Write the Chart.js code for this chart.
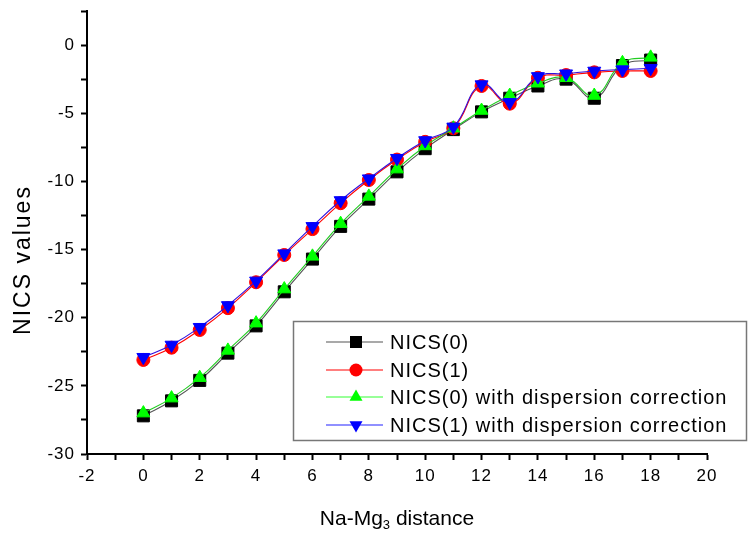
<!DOCTYPE html>
<html>
<head>
<meta charset="utf-8">
<title>NICS values vs Na-Mg3 distance</title>
<script src="https://cdn.jsdelivr.net/npm/chart.js@4.4.0/dist/chart.umd.min.js"></script>
<style>
  html, body { margin: 0; padding: 0; background: #fff; }
  #wrap { width: 754px; height: 533px; }
</style>
</head>
<body>
<div id="wrap"><canvas id="chart" width="754" height="533"></canvas></div>
<script>
// distance steps along the x axis
const distances = [0, 1, 2, 3, 4, 5, 6, 7, 8, 9, 10, 11, 12, 13, 14, 15, 16, 17, 18];

const nics0 = [-27.2, -26.1, -24.6, -22.6, -20.6, -18.1, -15.7, -13.3, -11.3, -9.3,
               -7.6, -6.2, -4.9, -3.9, -3.0, -2.5, -3.9, -1.5, -1.1];
const nics1 = [-23.1, -22.2, -20.9, -19.3, -17.4, -15.4, -13.5, -11.6, -9.9, -8.4,
               -7.1, -6.1, -3.0, -4.3, -2.4, -2.2, -2.0, -1.9, -1.9];
const nics0Disp = [-27.0, -25.9, -24.4, -22.4, -20.4, -17.9, -15.5, -13.1, -11.1, -9.1,
                   -7.4, -6.1, -4.8, -3.7, -2.8, -2.4, -3.7, -1.3, -0.9];
const nics1Disp = [-22.9, -22.0, -20.7, -19.1, -17.3, -15.3, -13.3, -11.4, -9.8, -8.3,
                   -7.0, -6.0, -2.9, -4.2, -2.3, -2.1, -1.9, -1.8, -1.7];

const seriesLabels = [
  'NICS(0)',
  'NICS(1)',
  'NICS(0) with dispersion correction',
  'NICS(1) with dispersion correction'
];

const xTitle = ['Na-Mg', '3', ' distance'];
const yTitle = 'NICS values';

const FONT = '"Liberation Sans", Arial, sans-serif';

function toPoints(values) {
  return values.map((v, i) => ({ x: distances[i], y: v }));
}

const styles = [
  { line: '#555555', fill: '#000000', pointStyle: 'rect', radius: 8.5, rotation: 0 },
  { line: '#ff0000', fill: '#ff0000', pointStyle: 'circle', radius: 6.5, rotation: 0 },
  { line: '#22cc22', fill: '#00ff00', pointStyle: 'triangle', radius: 7.5, rotation: 0 },
  { line: '#3010dd', fill: '#0000ff', pointStyle: 'triangle', radius: 7.5, rotation: 180 }
];

const legendLineColors = ['#555555', '#ff0000', '#33ff33', '#2222ff'];

const allValues = [nics0, nics1, nics0Disp, nics1Disp];

const datasets = allValues.map((vals, i) => ({
  label: seriesLabels[i],
  data: toPoints(vals),
  borderColor: styles[i].line,
  borderWidth: 1.1,
  backgroundColor: styles[i].fill,
  pointBackgroundColor: styles[i].fill,
  pointBorderColor: styles[i].fill,
  pointBorderWidth: 1,
  pointStyle: styles[i].pointStyle,
  pointRadius: styles[i].radius,
  pointRotation: styles[i].rotation,
  tension: 0.45,
  order: 4 - i,
  clip: false
}));

// titles and the boxed legend inside the plot
const decorations = {
  id: 'decorations',
  beforeDraw(chart) {
    chart.ctx.letterSpacing = '1px';
  },
  afterDraw(chart) {
    const ctx = chart.ctx;
    const area = chart.chartArea;
    ctx.save();
    ctx.fillStyle = '#000';

    // y title
    ctx.font = '23px ' + FONT;
    ctx.letterSpacing = '2px';
    ctx.textAlign = 'center';
    ctx.textBaseline = 'middle';
    ctx.translate(24, 260);
    ctx.rotate(-Math.PI / 2);
    ctx.fillText(yTitle, 0, 0);
    ctx.setTransform(1, 0, 0, 1, 0, 0);

    // x title with subscript
    ctx.textAlign = 'left';
    ctx.textBaseline = 'alphabetic';
    ctx.letterSpacing = '0px';
    const big = '21px ' + FONT, small = '13px ' + FONT;
    ctx.font = big;
    const w1 = ctx.measureText(xTitle[0]).width;
    const w3 = ctx.measureText(xTitle[2]).width;
    ctx.font = small;
    const w2 = ctx.measureText(xTitle[1]).width;
    let x = (area.left + area.right) / 2 - (w1 + w2 + w3) / 2;
    const base = 525;
    ctx.font = big;
    ctx.fillText(xTitle[0], x, base);
    x += w1;
    ctx.font = small;
    ctx.fillText(xTitle[1], x, base + 4);
    x += w2;
    ctx.font = big;
    ctx.fillText(xTitle[2], x, base);

    // legend box
    ctx.fillStyle = '#fff';
    ctx.fillRect(293, 321, 454, 120);
    ctx.strokeStyle = '#777';
    ctx.lineWidth = 1.5;
    ctx.strokeRect(293.5, 321.5, 453, 119);

    const rows = [342, 370, 397, 425];
    rows.forEach((y, i) => {
      const s = styles[i];
      ctx.strokeStyle = legendLineColors[i];
      ctx.lineWidth = 1.2;
      ctx.beginPath();
      ctx.moveTo(326, y);
      ctx.lineTo(383, y);
      ctx.stroke();
      ctx.fillStyle = s.fill;
      drawMarker(ctx, s, 356, y);
      ctx.fillStyle = '#000';
      ctx.font = '20px ' + FONT;
      ctx.letterSpacing = '1px';
      ctx.textBaseline = 'middle';
      ctx.fillText(seriesLabels[i], 390, y + 1);
    });
    ctx.restore();
  }
};

function drawMarker(ctx, s, x, y) {
  ctx.beginPath();
  if (s.pointStyle === 'rect') {
    const h = s.radius * Math.SQRT1_2;
    ctx.rect(x - h, y - h, 2 * h, 2 * h);
  } else if (s.pointStyle === 'circle') {
    ctx.arc(x, y, s.radius, 0, Math.PI * 2);
  } else {
    let rad = s.rotation * Math.PI / 180;
    ctx.moveTo(x + Math.sin(rad) * s.radius, y - Math.cos(rad) * s.radius);
    rad += 2 * Math.PI / 3;
    ctx.lineTo(x + Math.sin(rad) * s.radius, y - Math.cos(rad) * s.radius);
    rad += 2 * Math.PI / 3;
    ctx.lineTo(x + Math.sin(rad) * s.radius, y - Math.cos(rad) * s.radius);
    ctx.closePath();
  }
  ctx.fill();
}

new Chart(document.getElementById('chart'), {
  type: 'line',
  data: { datasets: datasets },
  plugins: [decorations],
  options: {
    responsive: false,
    animation: false,
    layout: { padding: { top: 11, right: 47, left: 0, bottom: 0 } },
    plugins: {
      legend: { display: false },
      tooltip: { enabled: false }
    },
    scales: {
      x: {
        type: 'linear',
        min: -2,
        max: 20,
        afterFit(scale) {
          scale.height = 79;
          scale.paddingLeft = 0;
          scale.paddingRight = 0;
        },
        border: { display: true, color: '#000', width: 2 },
        grid: { drawOnChartArea: false, color: '#000', tickLength: 6, tickWidth: 2 },
        ticks: {
          stepSize: 1,
          color: '#000',
          padding: 6,
          maxRotation: 0,
          autoSkip: false,
          font: { family: FONT, size: 17 },
          callback: v => (v % 2 === 0 ? String(v) : '')
        }
      },
      y: {
        min: -30,
        max: 2.5,
        afterFit(scale) {
          scale.width = 87;
          scale.paddingTop = 0;
          scale.paddingBottom = 0;
        },
        border: { display: true, color: '#000', width: 2 },
        grid: { drawOnChartArea: false, color: '#000', tickLength: 6, tickWidth: 2 },
        ticks: {
          stepSize: 2.5,
          color: '#000',
          padding: 6,
          autoSkip: false,
          font: { family: FONT, size: 17 },
          callback: v => (v % 5 === 0 ? String(v === 0 ? 0 : v) : '')
        }
      }
    }
  }
});
</script>
</body>
</html>
